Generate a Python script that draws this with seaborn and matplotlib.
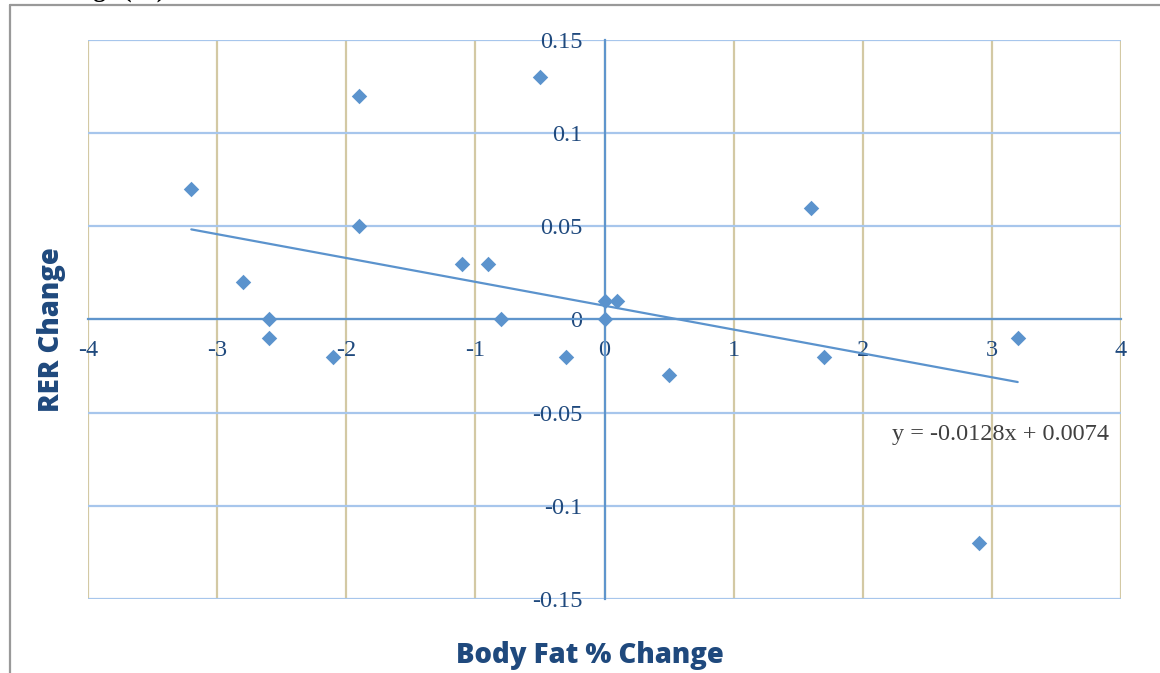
import matplotlib
matplotlib.use("Agg")
import matplotlib.pyplot as plt
from matplotlib.lines import Line2D
from matplotlib.ticker import FixedLocator, FuncFormatter
import numpy as np
import pandas as pd
import seaborn as sns

# Change in body fat % vs change in RER, one point per subject
body_fat_change = [-3.2, -2.8, -2.6, -2.6, -2.1, -1.9, -1.9, -1.1, -0.9, -0.8,
                   -0.5, -0.3, 0.0, 0.0, 0.1, 0.5, 1.6, 1.7, 2.9, 3.2]
rer_change = [0.07, 0.02, 0.0, -0.01, -0.02, 0.12, 0.05, 0.03, 0.03, 0.0,
              0.13, -0.02, 0.01, 0.0, 0.01, -0.03, 0.06, -0.02, -0.12, -0.01]

# Linear trendline coefficients
trend_slope = -0.0128
trend_intercept = 0.0074

x_ticks = [-4, -3, -2, -1, 0, 1, 2, 3, 4]
y_ticks = [-0.15, -0.1, -0.05, 0.0, 0.05, 0.1, 0.15]

sns.set_theme(style="white")
plt.rcParams["axes.unicode_minus"] = False
plt.rcParams["font.family"] = ["Liberation Serif", "DejaVu Serif"]

NAVY = "#1f497d"
POINT = "#5b93cd"
AXIS_BLUE = "#5f95cc"
GRID_BLUE = "#a7c6ec"
GRID_TAN = "#d3c9a4"

df = pd.DataFrame({"bf": body_fat_change, "rer": rer_change})
xs = np.array([min(body_fat_change), max(body_fat_change)])
trend = pd.DataFrame({"bf": xs, "rer": trend_slope * xs + trend_intercept})

fig = plt.figure(figsize=(11.6, 6.73), dpi=100)
ax = fig.add_axes([88 / 1160, 1 - 599 / 673, (1121 - 88) / 1160, (599 - 40) / 673])

sns.lineplot(data=trend, x="bf", y="rer", ax=ax, color=POINT, linewidth=1.6, zorder=3)
sns.scatterplot(data=df, x="bf", y="rer", ax=ax, marker="D", s=62, color=POINT,
                edgecolor=POINT, linewidth=0, zorder=4)

ax.set_xlim(-4, 4)
ax.set_ylim(-0.15, 0.15)
ax.xaxis.set_major_locator(FixedLocator(x_ticks))
ax.yaxis.set_major_locator(FixedLocator(y_ticks))
ax.xaxis.set_major_formatter(FuncFormatter(lambda v, p: f"{v:g}"))
ax.yaxis.set_major_formatter(FuncFormatter(lambda v, p: "0" if abs(v) < 1e-9 else f"{v:g}"))

ax.set_facecolor("white")
ax.xaxis.grid(True, color=GRID_TAN, linewidth=1.6)
ax.yaxis.grid(True, color=GRID_BLUE, linewidth=1.6)
ax.set_axisbelow(True)
for gl in ax.get_xgridlines() + ax.get_ygridlines():
    gl.set_clip_on(False)

for side in ["top", "right"]:
    ax.spines[side].set_visible(False)
ax.spines["left"].set_position(("data", 0))
ax.spines["bottom"].set_position(("data", 0))
for side in ["left", "bottom"]:
    ax.spines[side].set_color(AXIS_BLUE)
    ax.spines[side].set_linewidth(1.6)
    ax.spines[side].set_zorder(2.5)

ax.tick_params(axis="both", length=0, labelsize=17.5, labelcolor=NAVY)
ax.tick_params(axis="x", pad=15)
ax.tick_params(axis="y", pad=16)
ax.set_xlabel("")
ax.set_ylabel("")

ax.text(2.227, -0.0615, "y = -0.0128x + 0.0074", fontsize=17.5, color="#404040",
        ha="left", va="center")

title_font = dict(family=["Open Sans", "Lato", "DejaVu Sans"], fontweight=800,
                  fontsize=19.8, color=NAVY)
fig.text(590 / 1160, 1 - 656 / 673, "Body Fat % Change", ha="center", va="center", **title_font)
fig.text(51 / 1160, 1 - 330 / 673, "RER Change", ha="center", va="center", rotation=90,
         **title_font)

# heading text above the frame, mostly cut off at the top edge
fig.text(165 / 1160, 1 + 3 / 673, "Change (%)", ha="right", va="baseline",
         fontsize=18, fontweight="bold", color="black")

# outer frame lines
fig.add_artist(Line2D([10 / 1160, 1], [1 - 5 / 673, 1 - 5 / 673], color="#999999",
                      linewidth=1.6, transform=fig.transFigure))
fig.add_artist(Line2D([10 / 1160, 10 / 1160], [0, 1 - 5 / 673], color="#999999",
                      linewidth=1.6, transform=fig.transFigure))

fig.savefig("out.png", dpi=100)
